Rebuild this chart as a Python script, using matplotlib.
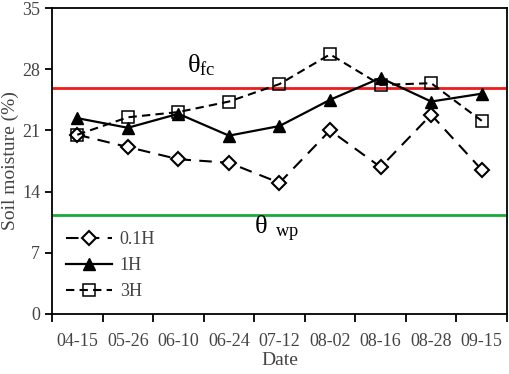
import numpy as np
import matplotlib
matplotlib.use("Agg")
import matplotlib.pyplot as plt

plt.rcParams['font.family'] = ['Liberation Serif', 'DejaVu Serif']

dates = ['04-15', '05-26', '06-10', '06-24', '07-12', '08-02', '08-16', '08-28', '09-15']
h01 = [20.5, 19.1, 17.7, 17.3, 15.0, 21.0, 16.8, 22.8, 16.5]
h1 = [22.4, 21.3, 22.9, 20.4, 21.5, 24.5, 27.0, 24.3, 25.2]
h3 = [20.5, 22.5, 23.1, 24.3, 26.3, 29.7, 26.2, 26.4, 22.1]
theta_fc = 25.9
theta_wp = 11.3

fig = plt.figure(figsize=(5.1, 3.74), dpi=100)
ax = fig.add_axes([52/510, 60/374, 455/510, 306/374])

x = np.arange(len(dates)) + 0.5

ax.axhline(theta_fc, color='#ee1c1c', lw=2, zorder=1)
ax.axhline(theta_wp, color='#1aaa3a', lw=2, zorder=1)

ax.plot(x, h01, color='black', lw=1.5, dashes=(6, 4), marker='D', markersize=7,
        mfc='white', mec='black', mew=1.5, label='0.1H', zorder=3)
ax.plot(x, h1, color='black', lw=1.6, marker='^', markersize=9,
        mfc='black', mec='black', label='1H', zorder=4)
ax.plot(x, h3, color='black', lw=1.5, dashes=(4, 2.5), marker='s', markersize=9,
        mfc='none', mec='black', mew=1.1, label='3H', zorder=3)

ax.text(2.95, 27.0, r'$\mathregular{\theta_{fc}}$', fontsize=19, color='black',
        ha='center', va='bottom')
ax.text(4.0, 8.0, r'$\mathregular{\theta\ _{wp}}$', fontsize=19, color='black',
        ha='left', va='bottom')

ax.set_xlim(0, 9)
ax.set_ylim(0, 35)
ax.set_xticks(np.arange(10))
ax.set_xticklabels([])
ax.set_xticks(x, minor=True)
ax.set_xticklabels(dates, minor=True)
ax.tick_params(axis='x', which='minor', length=0, pad=14)
ax.tick_params(axis='x', which='major', length=6, width=1.3, direction='out')
ax.set_yticks([0, 7, 14, 21, 28, 35])
ax.tick_params(axis='y', length=5, width=1.3, direction='out')
ax.tick_params(which='both', labelsize=13, labelcolor='#444444')
for s in ax.spines.values():
    s.set_linewidth(1.3)

ax.set_xlabel('Date', fontsize=14, color='#444444', labelpad=1)
ax.set_ylabel('Soil moisture (%)', fontsize=14, color='#444444', labelpad=2)

leg = ax.legend(loc='lower left', bbox_to_anchor=(0.0, 0.0), frameon=False,
                fontsize=13, handlelength=2.6, labelspacing=0.5,
                handletextpad=0.4, borderaxespad=0.35)
for t in leg.get_texts():
    t.set_color('#444444')

fig.savefig('out.png', dpi=100)
